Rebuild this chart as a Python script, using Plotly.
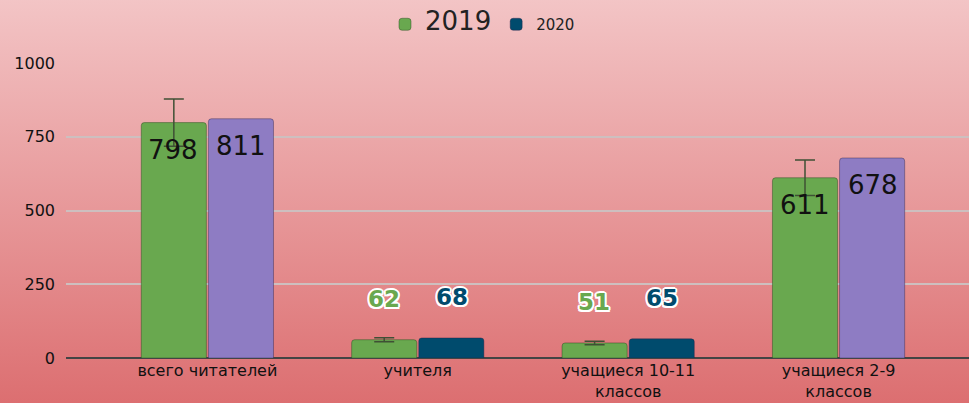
import base64
import plotly.graph_objects as go

# ---- data ----
categories = ["всего читателей", "учителя", "учащиеся 10-11<br>классов", "учащиеся 2-9<br>классов"]
values_2019 = [798, 62, 51, 611]
values_2020 = [811, 68, 65, 678]
errors_2019 = [80, 7, 6, 60]
series_names = ["2019", "2020"]
y_ticks = [0, 250, 500, 750, 1000]

# ---- styles ----
GREEN = "#69a84f"
PURPLE = "#8e7cc3"
NAVY = "#004b6d"
colors_2020 = [PURPLE, NAVY, NAVY, PURPLE]
BIG = 300  # values above this get labels inside the bar
FONT = "DejaVu Sans"

W, H = 969, 403
ML, MR, MT, MB = 66, 0, 63, 45
PW, PH = W - ML - MR, H - MT - MB

# order the 2020 trace so its first point (used for the legend swatch) is navy
order = sorted(range(len(categories)), key=lambda i: colors_2020[i] != NAVY)

fig = go.Figure()
fig.add_trace(go.Bar(
    name="<span style='font-size:26px'>" + series_names[0] + "</span>",
    x=categories, y=values_2019,
    marker=dict(color=GREEN, line=dict(color="rgba(40,70,30,0.45)", width=1), cornerradius=3),
    error_y=dict(type="data", array=errors_2019, color="#3f5035", thickness=1.5, width=10),
))
fig.add_trace(go.Bar(
    name="<span style='font-size:15px'>" + series_names[1] + "</span>",
    x=[categories[i] for i in order], y=[values_2020[i] for i in order],
    marker=dict(color=[colors_2020[i] for i in order],
                line=dict(color="rgba(40,30,70,0.4)", width=1), cornerradius=3),
))

outline = ("2px 0 0 white, -2px 0 0 white, 0 2px 0 white, 0 -2px 0 white, "
           "1.5px 1.5px 0 white, -1.5px -1.5px 0 white, 1.5px -1.5px 0 white, -1.5px 1.5px 0 white")

annotations = []
for vals, cols, shift in ((values_2019, [GREEN] * 4, -34), (values_2020, colors_2020, 34)):
    for cat, v, c in zip(categories, vals, cols):
        if v > BIG:
            annotations.append(dict(
                x=cat, y=v, xref="x", yref="y", text=str(v), showarrow=False,
                xshift=shift, yshift=-27, yanchor="middle",
                font=dict(family=FONT, size=26, color="#111111"),
            ))
        else:
            annotations.append(dict(
                x=cat, y=v, xref="x", yref="y", text=str(v), showarrow=False,
                xshift=shift, yshift=41, yanchor="middle",
                font=dict(family=FONT, size=23, color=c, weight="bold", shadow=outline),
            ))

svg = (f'<svg xmlns="http://www.w3.org/2000/svg" width="{W}" height="{H}" preserveAspectRatio="none">'
       '<defs><linearGradient id="g" x1="0" y1="0" x2="0" y2="1">'
       '<stop offset="0" stop-color="#f3c5c6"/><stop offset="1" stop-color="#dc6e70"/>'
       '</linearGradient></defs>'
       f'<rect width="{W}" height="{H}" fill="url(#g)"/></svg>')
src = "data:image/svg+xml;base64," + base64.b64encode(svg.encode()).decode()
PAD = 3  # extend the background a little beyond the page edges

fig.update_layout(
    width=W, height=H,
    margin=dict(l=ML, r=MR, t=MT, b=MB),
    paper_bgcolor="#e89a9b", plot_bgcolor="rgba(0,0,0,0)",
    font=dict(family=FONT, size=15, color="#222222"),
    barmode="group", bargap=0.362, bargroupgap=0.03,
    images=[dict(source=src, xref="paper", yref="paper",
                 x=-(ML + PAD) / PW, y=1 + (MT + PAD) / PH,
                 sizex=(W + 2 * PAD) / PW, sizey=(H + 2 * PAD) / PH,
                 xanchor="left", yanchor="top", sizing="stretch", layer="below")],
    legend=dict(orientation="h", xref="container", yref="container",
                x=385 / W, y=1 - 8 / H, xanchor="left", yanchor="top",
                font=dict(family=FONT, size=15, color="#222222"),
                bgcolor="rgba(0,0,0,0)", itemclick=False),
    annotations=annotations,
    xaxis=dict(categoryorder="array", categoryarray=categories,
               range=[-0.672, 3.62], showgrid=False, showline=False, ticks="",
               ticklabelstandoff=1, automargin=False,
               tickfont=dict(family=FONT, size=16, color="#111111")),
    yaxis=dict(range=[0, 1000], tickvals=y_ticks, showgrid=True,
               gridcolor="#cdbfbf", gridwidth=1.5, automargin=False,
               zeroline=True, zerolinecolor="#444444", zerolinewidth=1.5,
               ticks="", ticklabelstandoff=10,
               tickfont=dict(family=FONT, size=16, color="#111111")),
)

fig.write_html("out.html", config={"displayModeBar": False},
               post_script="document.body.style.margin='0';document.body.style.overflow='hidden';")
